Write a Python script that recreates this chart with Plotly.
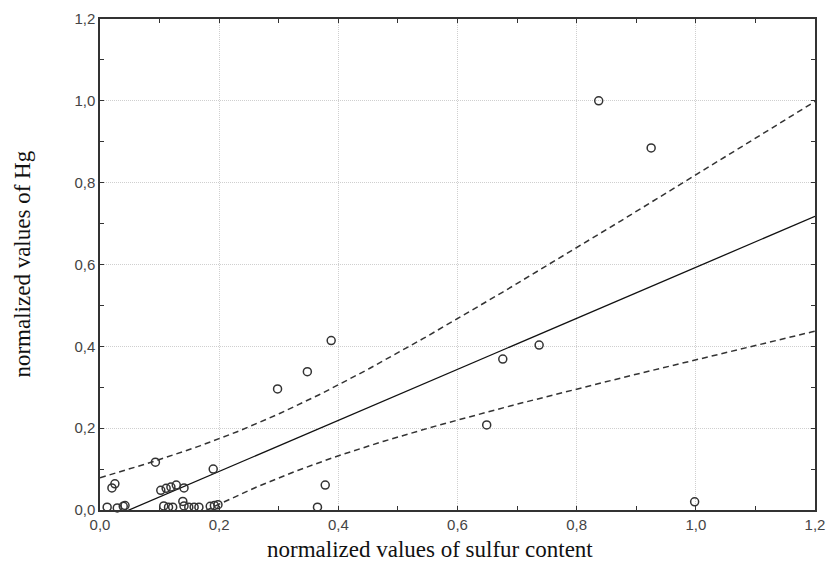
import numpy as np
import plotly.graph_objects as go

# normalized sulfur content (x) and normalized Hg (y)
sulfur = [
    0.837, 0.925, 0.998, 0.737, 0.676, 0.649, 0.388, 0.348, 0.298, 0.378, 0.365,
    0.020, 0.025, 0.093, 0.190, 0.102, 0.111, 0.119, 0.128, 0.141,
    0.012, 0.029, 0.039, 0.042, 0.107, 0.115, 0.122, 0.139, 0.141, 0.149,
    0.158, 0.166, 0.185, 0.192, 0.198,
]
hg = [
    1.000, 0.885, 0.020, 0.403, 0.369, 0.208, 0.414, 0.338, 0.296, 0.061, 0.007,
    0.054, 0.064, 0.117, 0.100, 0.048, 0.053, 0.056, 0.061, 0.054,
    0.007, 0.005, 0.009, 0.011, 0.010, 0.007, 0.007, 0.021, 0.010, 0.007,
    0.007, 0.007, 0.009, 0.011, 0.013,
]

tick_vals = [0.0, 0.2, 0.4, 0.6, 0.8, 1.0, 1.2]
tick_text = ["0,0", "0,2", "0,4", "0,6", "0,8", "1,0", "1,2"]

# linear fit with 99% confidence band for the mean
x = np.array(sulfur)
y = np.array(hg)
n = len(x)
slope, intercept = np.polyfit(x, y, 1)
resid = y - (intercept + slope * x)
s = np.sqrt(np.sum(resid ** 2) / (n - 2))
sxx = np.sum((x - x.mean()) ** 2)
t_val = 2.733  # t(0.995, df=33)

xf = np.linspace(0, 1.2, 200)
yf = intercept + slope * xf
half = t_val * s * np.sqrt(1.0 / n + (xf - x.mean()) ** 2 / sxx)

dash_line = dict(color="#333", width=1.5, dash="6px,4px")

fig = go.Figure()
fig.add_trace(go.Scatter(x=xf, y=yf + half, mode="lines", line=dash_line))
fig.add_trace(go.Scatter(x=xf, y=yf - half, mode="lines", line=dash_line))
fig.add_trace(go.Scatter(x=xf, y=yf, mode="lines",
                         line=dict(color="#111", width=1.3)))
fig.add_trace(go.Scatter(
    x=sulfur, y=hg, mode="markers", cliponaxis=False,
    marker=dict(symbol="circle-open", size=8, color="#333", line=dict(width=1.5)),
))

axis_style = dict(
    range=[0, 1.2],
    tickvals=tick_vals,
    ticktext=tick_text,
    automargin=False,
    showgrid=True,
    gridcolor="#cfcfcf",
    griddash="1px,1px",
    gridwidth=1,
    zeroline=False,
    showline=True,
    linecolor="#333",
    linewidth=1.5,
    mirror="ticks",
    ticks="inside",
    ticklen=4,
    tickcolor="#333",
    minor=dict(dtick=0.1, ticks="inside", ticklen=4, tickcolor="#333", showgrid=False),
    tickfont=dict(family="Liberation Sans, Arial", size=15, color="#444"),
)

fig.update_layout(
    width=829, height=568,
    margin=dict(l=100, r=14, t=19, b=58),
    plot_bgcolor="white",
    paper_bgcolor="white",
    showlegend=False,
    xaxis=axis_style,
    yaxis=axis_style,
    annotations=[
        dict(text="normalized values of sulfur content", xref="paper", yref="paper",
             x=0.4615, y=-0.081, xanchor="center", yanchor="middle", showarrow=False,
             font=dict(family="Liberation Serif, Times New Roman", size=23, color="#111")),
        dict(text="normalized values of Hg", xref="paper", yref="paper",
             x=-0.109, y=0.5, xanchor="center", yanchor="middle", textangle=-90,
             showarrow=False,
             font=dict(family="Liberation Serif, Times New Roman", size=23, color="#111")),
    ],
)

# drop the default page margin so the figure sits at the window's corner
fig.write_html("out.html",
               config={"displayModeBar": False},
               post_script="document.body.style.margin='0';document.body.style.overflow='hidden';")
